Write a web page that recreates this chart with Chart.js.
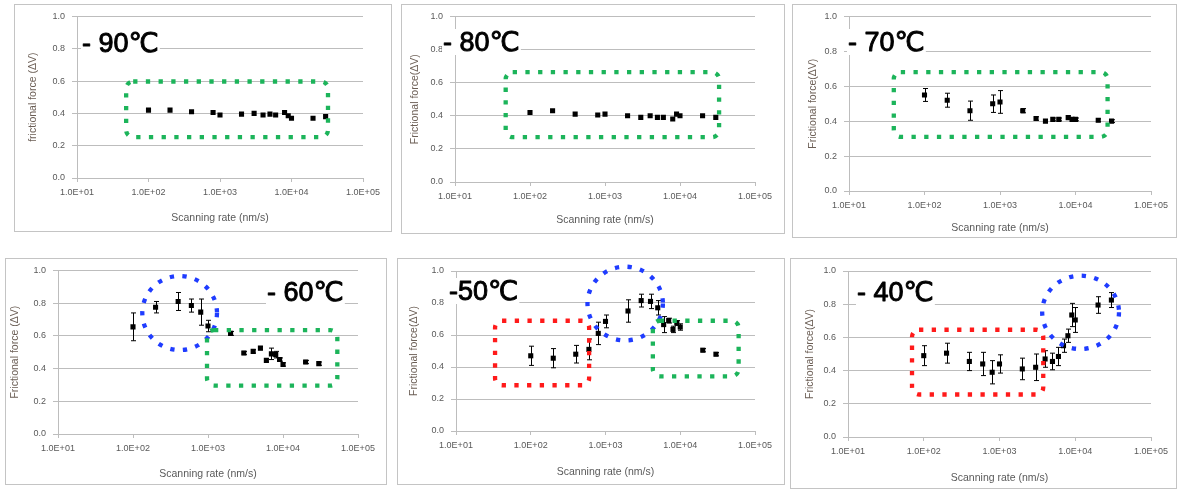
<!DOCTYPE html>
<html>
<head>
<meta charset="utf-8">
<script src="https://cdn.jsdelivr.net/npm/chart.js@4.4.1/dist/chart.umd.min.js"></script>
<style>
  html, body { margin: 0; padding: 0; background: #fff; }
  #stage { position: relative; width: 1179px; height: 491px; overflow: hidden; }
  .frame { position: absolute; box-sizing: border-box; border: 1.5px solid #c4c4c4; }
  canvas { position: absolute; }
</style>
</head>
<body>
<div id="stage"></div>
<script>
// ---- data ----
const X_A = [100, 200, 400, 800, 1000, 2000, 3000, 4000, 5000, 6000, 8000, 9000, 10000, 20000, 30000];
const X_B = [100, 200, 400, 600, 800, 1000, 2000, 3000, 4000, 5000, 6000, 7000, 8000, 9000, 10000, 20000, 30000];

const Y_M90 = [0.42, 0.42, 0.41, 0.405, 0.39, 0.395, 0.40, 0.39, 0.395, 0.39, 0.405, 0.385, 0.37, 0.37, 0.38];
const Y_M80 = [0.42, 0.43, 0.41, 0.405, 0.41, 0.40, 0.39, 0.40, 0.39, 0.39, 0.38, 0.41, 0.40, 0.40, 0.39];
const Y_M70 = [0.55, 0.52, 0.46, 0.50, 0.51, 0.46, 0.415, 0.40, 0.41, 0.41, 0.42, 0.41, 0.41, 0.405, 0.40];
const E_M70 = [0.037, 0.04, 0.055, 0.05, 0.065, 0.012, 0.01, 0.008, 0.008, 0.008, 0.01, 0.008, 0.008, 0.008, 0.008];
const Y_M60 = [0.655, 0.775, 0.81, 0.785, 0.745, 0.66, 0.615, 0.495, 0.505, 0.525, 0.45, 0.49, 0.485, 0.455, 0.425, 0.44, 0.43];
const E_M60 = [0.085, 0.035, 0.055, 0.04, 0.08, 0.035, 0.012, 0.01, 0.01, 0.01, 0.01, 0.035, 0.02, 0.01, 0.01, 0.01, 0.01];
const Y_M50 = [0.47, 0.455, 0.48, 0.51, 0.61, 0.685, 0.75, 0.815, 0.81, 0.77, 0.665, 0.69, 0.635, 0.675, 0.65, 0.505, 0.48];
const E_M50 = [0.06, 0.06, 0.055, 0.065, 0.07, 0.04, 0.07, 0.04, 0.045, 0.045, 0.05, 0.015, 0.02, 0.015, 0.02, 0.01, 0.01];
const Y_M40 = [0.49, 0.505, 0.455, 0.44, 0.39, 0.44, 0.41, 0.42, 0.47, 0.455, 0.485, 0.55, 0.61, 0.735, 0.705, 0.795, 0.825];
const E_M40 = [0.06, 0.06, 0.055, 0.07, 0.07, 0.055, 0.065, 0.08, 0.05, 0.05, 0.055, 0.04, 0.04, 0.07, 0.075, 0.05, 0.045];

const X_TICKS = [10, 100, 1000, 10000, 100000];
const X_TICK_LABELS = ['1.0E+01', '1.0E+02', '1.0E+03', '1.0E+04', '1.0E+05'];
const Y_TICKS = [0, 0.2, 0.4, 0.6, 0.8, 1.0];
const Y_TICK_LABELS = ['0.0', '0.2', '0.4', '0.6', '0.8', '1.0'];

const X_TITLE = 'Scanning rate (nm/s)';
const GREEN = '#1cb45a', RED = '#ff1a1a', BLUE = '#1f3cff';

// ---- panel layout: frame [left, top, w, h], plot [l, t, r, b] inside frame ----
const PANELS = [
  { label: '- 90℃', yTitle: 'frictional force (ΔV)', xs: X_A, ys: Y_M90, err: null,
    frame: [14, 4, 378, 228], plot: [63, 12, 349, 174], yTitleX: 19, xTitleY: 214, labelAt: [68, 48],
    shapes: [{ kind: 'rect', color: GREEN, x: [48.7, 32400], y: [0.253, 0.597] }] },
  { label: '- 80℃', yTitle: 'Frictional force(ΔV)', xs: X_A, ys: Y_M80, err: null,
    frame: [401, 4, 384, 230], plot: [54, 12, 354, 178], yTitleX: 14, xTitleY: 216, labelAt: [42, 47],
    shapes: [{ kind: 'rect', color: GREEN, x: [47.4, 33200], y: [0.271, 0.663] }] },
  { label: '- 70℃', yTitle: 'Frictional force(ΔV)', xs: X_A, ys: Y_M70, err: E_M70,
    frame: [792, 4, 385, 234], plot: [57, 12, 359, 187], yTitleX: 21, xTitleY: 224, labelAt: [56, 47],
    shapes: [{ kind: 'rect', color: GREEN, x: [39.2, 26600], y: [0.31, 0.681] }] },
  { label: '- 60℃', yTitle: 'Frictional force (ΔV)', xs: X_B, ys: Y_M60, err: E_M60,
    frame: [5, 258, 382, 227], plot: [53, 12, 353, 176], yTitleX: 10, xTitleY: 216, labelAt: [262, 43],
    shapes: [{ kind: 'ellipse', color: BLUE, x: [133, 1318], y: [0.513, 0.966] },
             { kind: 'rect', color: GREEN, x: [970, 53000], y: [0.296, 0.635] }] },
  { label: '-50℃', yTitle: 'Frictional force(ΔV)', xs: X_B, ys: Y_M50, err: E_M50,
    frame: [397, 258, 388, 227], plot: [59, 13, 358, 173], yTitleX: 17, xTitleY: 214, labelAt: [52, 42],
    shapes: [{ kind: 'rect', color: RED, x: [33.3, 604], y: [0.286, 0.689] },
             { kind: 'ellipse', color: BLUE, x: [574, 5860], y: [0.566, 1.027] },
             { kind: 'rect', color: GREEN, x: [4300, 60400], y: [0.342, 0.689] }] },
  { label: '- 40℃', yTitle: 'Frictional force(ΔV)', xs: X_B, ys: Y_M40, err: E_M40,
    frame: [790, 258, 387, 231], plot: [58, 13, 361, 179], yTitleX: 20, xTitleY: 220, labelAt: [67, 43],
    shapes: [{ kind: 'rect', color: RED, x: [70, 3780], y: [0.256, 0.646] },
             { kind: 'ellipse', color: BLUE, x: [3660, 37800], y: [0.53, 0.972] }] }
];

const TICK_FONT = { family: 'Liberation Sans', size: 9 };
const TITLE_FONT = { family: 'Liberation Sans', size: 10.5 };
const GRID = '#bdbdbd';

// error bars under the points, dotted highlight shapes and temperature label on top
const extras = {
  id: 'extras',
  beforeDatasetsDraw(chart, args, opts) {
    if (!opts.err) return;
    const { ctx, scales: { x, y } } = chart;
    ctx.save();
    ctx.strokeStyle = '#000';
    ctx.lineWidth = 1;
    chart.data.datasets[0].data.forEach((p, i) => {
      const px = Math.round(x.getPixelForValue(p.x)) + 0.5;
      const t = y.getPixelForValue(p.y + opts.err[i]);
      const b = y.getPixelForValue(p.y - opts.err[i]);
      ctx.beginPath();
      ctx.moveTo(px, t); ctx.lineTo(px, b);
      ctx.moveTo(px - 2.5, t); ctx.lineTo(px + 2.5, t);
      ctx.moveTo(px - 2.5, b); ctx.lineTo(px + 2.5, b);
      ctx.stroke();
    });
    ctx.restore();
  },
  afterDatasetsDraw(chart, args, opts) {
    const { ctx, scales: { x, y } } = chart;
    ctx.save();
    opts.shapes.forEach(s => {
      const x0 = x.getPixelForValue(s.x[0]), x1 = x.getPixelForValue(s.x[1]);
      const y0 = y.getPixelForValue(s.y[1]), y1 = y.getPixelForValue(s.y[0]);
      ctx.strokeStyle = s.color;
      ctx.lineWidth = 4.3;
      ctx.setLineDash([4.3, 8.4]);
      ctx.beginPath();
      if (s.kind === 'rect') {
        ctx.roundRect(x0, y0, x1 - x0, y1 - y0, 7);
      } else {
        ctx.ellipse((x0 + x1) / 2, (y0 + y1) / 2, (x1 - x0) / 2, (y1 - y0) / 2, 0, 0, Math.PI * 2);
      }
      ctx.stroke();
    });
    ctx.setLineDash([]);
    // temperature label in a white text box, medium weight
    ctx.font = '27px "Liberation Sans", "DejaVu Sans", sans-serif';
    const w = ctx.measureText(opts.label).width;
    const [lx, ly] = opts.labelAt;
    ctx.fillStyle = '#fff';
    ctx.fillRect(lx - 1, ly - 22, w + 2, 26);
    ctx.fillStyle = '#000';
    ctx.strokeStyle = '#000';
    ctx.lineWidth = 0.9;
    ctx.lineJoin = 'round';
    ctx.textBaseline = 'alphabetic';
    ctx.fillText(opts.label, lx, ly);
    ctx.strokeText(opts.label, lx, ly);
    ctx.restore();
  }
};

function makePanel(p) {
  const stage = document.getElementById('stage');
  const [fl, ft, fw, fh] = p.frame;
  const [pl, pt, pr, pb] = p.plot;

  const frame = document.createElement('div');
  frame.className = 'frame';
  Object.assign(frame.style, { left: fl + 'px', top: ft + 'px', width: fw + 'px', height: fh + 'px' });
  stage.appendChild(frame);

  const cv = document.createElement('canvas');
  cv.width = fw; cv.height = fh;
  Object.assign(cv.style, { left: fl + 'px', top: ft + 'px', width: fw + 'px', height: fh + 'px' });
  stage.appendChild(cv);

  const half = TITLE_FONT.size * 1.2 / 2;

  return new Chart(cv, {
    type: 'scatter',
    data: {
      datasets: [{
        data: p.xs.map((v, i) => ({ x: v, y: p.ys[i] })),
        pointStyle: 'rect',
        pointRadius: 3.6,
        pointHoverRadius: 3.6,
        backgroundColor: '#000',
        borderWidth: 0
      }]
    },
    options: {
      responsive: false,
      animation: false,
      events: [],
      layout: { padding: { top: pt, right: fw - pr, bottom: 0, left: 0 } },
      plugins: {
        legend: { display: false },
        tooltip: { enabled: false },
        extras: { err: p.err, shapes: p.shapes, label: p.label, labelAt: p.labelAt }
      },
      scales: {
        x: {
          type: 'logarithmic',
          min: X_TICKS[0], max: X_TICKS[X_TICKS.length - 1],
          afterBuildTicks: s => { s.ticks = X_TICKS.map(v => ({ value: v })); },
          afterFit: s => { s.height = fh - pb; },
          ticks: {
            autoSkip: false, maxRotation: 0, padding: 5,
            color: '#595959', font: TICK_FONT,
            callback: (v, i) => X_TICK_LABELS[i]
          },
          grid: { drawOnChartArea: false, drawTicks: true, tickLength: 4, color: GRID },
          border: { color: GRID, width: 1 },
          title: {
            display: true, text: X_TITLE, color: '#595959', font: TITLE_FONT,
            padding: { top: 0, bottom: fh - p.xTitleY - half }
          }
        },
        y: {
          min: 0, max: 1,
          afterBuildTicks: s => { s.ticks = Y_TICKS.map(v => ({ value: v })); },
          afterFit: s => { s.width = pl; },
          ticks: { padding: 7, color: '#595959', font: TICK_FONT, callback: (v, i) => Y_TICK_LABELS[i] },
          grid: { color: GRID, lineWidth: 1, tickLength: 5 },
          border: { color: GRID, width: 1 },
          title: {
            display: true, text: p.yTitle, color: '#6b5e55', font: TITLE_FONT,
            padding: { top: p.yTitleX - half, bottom: 0 }
          }
        }
      }
    },
    plugins: [extras]
  });
}

PANELS.forEach(makePanel);
</script>
</body>
</html>
